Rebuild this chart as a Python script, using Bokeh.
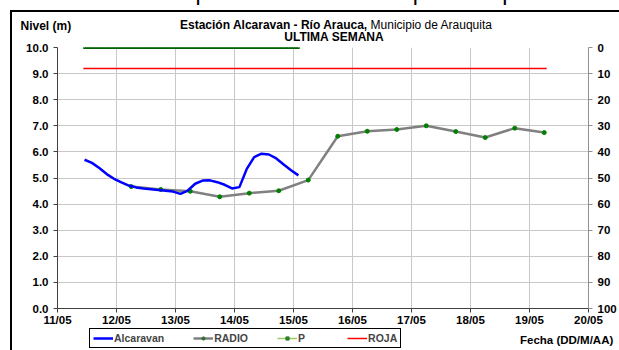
import pandas as pd
from bokeh.plotting import figure
from bokeh.layouts import column
from bokeh.models import (Range1d, LinearAxis, FixedTicker, PrintfTickFormatter,
                          Legend, LegendItem, Div)
from bokeh.embed import file_html
from bokeh.resources import INLINE

# ---------------- data ----------------
day_ticks = ["2010-05-11", "2010-05-12", "2010-05-13", "2010-05-14", "2010-05-15",
             "2010-05-16", "2010-05-17", "2010-05-18", "2010-05-19", "2010-05-20"]
day_labels = ["11/05", "12/05", "13/05", "14/05", "15/05",
              "16/05", "17/05", "18/05", "19/05", "20/05"]
nivel_ticks = [0, 1, 2, 3, 4, 5, 6, 7, 8, 9, 10]
precip_ticks = [0, 10, 20, 30, 40, 50, 60, 70, 80, 90, 100]

# Alcaravan (sensor, every 3 h)
alc_start = "2010-05-11 11:00"
alc_values = [5.70, 5.58, 5.38, 5.15, 4.97, 4.83, 4.71, 4.64, 4.60, 4.57,
              4.54, 4.51, 4.48, 4.39, 4.52, 4.78, 4.90, 4.91, 4.84, 4.74,
              4.60, 4.65, 5.35, 5.80, 5.93, 5.90, 5.75, 5.52, 5.30, 5.10]

# RADIO readings (06:00 and 18:00)
radio_times = ["2010-05-12 06:00", "2010-05-12 18:00", "2010-05-13 06:00", "2010-05-13 18:00",
               "2010-05-14 06:00", "2010-05-14 18:00", "2010-05-15 06:00", "2010-05-15 18:00",
               "2010-05-16 06:00", "2010-05-16 18:00", "2010-05-17 06:00", "2010-05-17 18:00",
               "2010-05-18 06:00", "2010-05-18 18:00", "2010-05-19 06:00"]
radio_values = [4.67, 4.56, 4.49, 4.28, 4.42, 4.51, 4.92, 6.60,
                6.79, 6.86, 7.00, 6.78, 6.55, 6.91, 6.74]

# P precipitation (hourly, mm)
p_start = "2010-05-11 11:00"
p_values = [0, 0, 0, 0, 0, 0, 0, 0, 0, 0, 0,
            0, 0, 0, 0, 0, 0, 0, 0, 0, 0, 0,
            0, 0, 0, 0, 0, 0, 0, 0, 0, 0, 0,
            0, 0, 0, 0, 0, 0, 0, 0, 0, 0, 0,
            0, 0, 0, 0, 0, 0, 0, 0, 0, 0, 0,
            0, 0, 0, 0, 0, 0, 0, 0, 0, 0, 0,
            0, 0, 0, 0, 0, 0, 0, 0, 0, 0, 0,
            0, 0, 0, 0, 0, 0, 0, 0, 0, 0, 0]

# ROJA alert level
roja_times = ["2010-05-11 10:30", "2010-05-19 07:00"]
roja_values = [9.2, 9.2]

# ---------------- build ----------------
alc_times = pd.date_range(alc_start, periods=len(alc_values), freq="3h")
p_times = pd.date_range(p_start, periods=len(p_values), freq="1h")
r_times = pd.to_datetime(radio_times)
ro_times = pd.to_datetime(roja_times)
tick_dt = pd.to_datetime(day_ticks)
tick_ms = [int(t.value // 10**6) for t in tick_dt]

FONT = "Liberation Sans"
W = 607

ROJA = dict(color="#ff0000", line_width=1.5)
PL = dict(color="#1e8c1e", line_width=3)
PP = dict(marker="square", size=2, color="#006000")
RL = dict(color="#808080", line_width=2.5)
RP = dict(marker="circle", size=4, color="#008000")
AL = dict(color="#0000ff", line_width=2.5)

# ---------- main chart ----------
p = figure(width=W, height=316, output_backend="svg", toolbar_location=None,
           x_axis_type="datetime",
           x_range=Range1d(tick_dt[0], tick_dt[-1]),
           y_range=Range1d(0, 10),
           min_border_left=45, min_border_right=29, min_border_top=35, min_border_bottom=18,
           background_fill_color="white", border_fill_color="white")
p.outline_line_color = None
p.extra_y_ranges = {"p": Range1d(start=100, end=0)}

p.xaxis.ticker = FixedTicker(ticks=tick_ms)
p.xaxis.major_label_overrides = {ms: lab for ms, lab in zip(tick_ms, day_labels)}
p.yaxis.ticker = FixedTicker(ticks=nivel_ticks)
p.yaxis.formatter = PrintfTickFormatter(format="%.1f")

right = LinearAxis(y_range_name="p", ticker=FixedTicker(ticks=precip_ticks))
p.add_layout(right, "right")

for ax in [p.xaxis[0], p.yaxis[0], right]:
    ax.major_label_text_font = FONT
    ax.major_label_text_font_style = "bold"
    ax.major_label_text_font_size = "11.5px"
    ax.major_label_text_color = "black"
    ax.minor_tick_line_color = None
    ax.major_tick_in = 0
    ax.major_tick_out = 4
p.xaxis.major_label_standoff = 1
p.yaxis[0].major_label_standoff = 5
right.major_label_standoff = 5
p.xaxis.axis_line_color = "#404040"
p.xaxis.major_tick_line_color = "#404040"
p.yaxis[0].axis_line_color = "#404040"
p.yaxis[0].major_tick_line_color = "#404040"
right.axis_line_color = "#909090"
right.major_tick_line_color = "#909090"

p.xgrid.ticker = FixedTicker(ticks=tick_ms)
p.ygrid.ticker = FixedTicker(ticks=nivel_ticks)
p.xgrid.grid_line_color = "#c8c8c8"
p.ygrid.grid_line_color = "#c8c8c8"

p.line(ro_times, roja_values, **ROJA)
p.line(p_times, p_values, y_range_name="p", **PL)
p.scatter(p_times, p_values, y_range_name="p", **PP)
p.line(r_times, radio_values, **RL)
p.scatter(r_times, radio_values, **RP)
p.line(alc_times, alc_values, **AL)

# ---------- legend strip (same series, ranges outside the data -> only the legend shows) ----------
leg = figure(width=W, height=22, output_backend="svg", toolbar_location=None,
             x_axis_location=None, y_axis_location=None,
             x_range=Range1d(0, 1), y_range=Range1d(0, 1),
             min_border_left=45, min_border_right=29, min_border_top=0, min_border_bottom=0,
             background_fill_color="white", border_fill_color="white")
leg.outline_line_color = None
leg.grid.visible = False
g_alc = leg.line(alc_times, alc_values, **AL)
g_rl = leg.line(r_times, radio_values, **RL)
g_rp = leg.scatter(r_times, radio_values, marker="circle", size=4, color="#2f6f2f")
g_pl = leg.line(p_times, p_values, color="#99cc66", line_width=1.5)
g_pp = leg.scatter(p_times, p_values, marker="square", size=3, color="#2f7f2f")
g_ro = leg.line(ro_times, roja_values, **ROJA)

legend = Legend(items=[
    LegendItem(label="Alcaravan", renderers=[g_alc]),
    LegendItem(label="RADIO", renderers=[g_rl, g_rp]),
    LegendItem(label="P", renderers=[g_pl, g_pp]),
    LegendItem(label="ROJA", renderers=[g_ro]),
], orientation="horizontal", location=(32, 2))
legend.label_text_font = FONT
legend.label_text_font_style = "bold"
legend.label_text_font_size = "10.5px"
legend.glyph_width = 20
legend.glyph_height = 8
legend.label_standoff = 1
legend.spacing = 29
legend.padding = 3
legend.margin = 0
legend.border_line_color = "black"
legend.border_line_alpha = 1.0
legend.border_line_width = 1.2
legend.background_fill_color = "white"
legend.background_fill_alpha = 1.0
leg.add_layout(legend, "center")


# ---------- texts (absolute HTML text over the layout) ----------
def text_div(html, left, top, width, size, bold=True, align="left"):
    return Div(text=html, width=width, height=int(float(size[:-2]) + 4),
               styles={"position": "absolute", "left": f"{left}px", "top": f"{top}px",
                       "font-family": FONT, "font-size": size,
                       "font-weight": "bold" if bold else "normal",
                       "line-height": size, "white-space": "nowrap",
                       "text-align": align, "color": "black", "margin": "0",
                       "padding": "0"})


texts = [
    text_div("el intervalo de los promedios históricos para la época.", -2, -31, 620,
             "23px", bold=False),
    text_div("Nivel (m)", 8.5, 7.8, 80, "12px"),
    text_div("<b>Estación Alcaravan - Río Arauca,</b> "
             "<span style='font-weight:normal'>Municipio de Arauquita</span>",
             124, 6.6, 400, "12px", bold=False, align="center"),
    text_div("ULTIMA SEMANA", 122, 19.4, 400, "12px", align="center"),
    text_div("Fecha (DD/M/AA)", 508, 323.3, 110, "11.5px"),
]

layout = column([p, leg] + texts, spacing=0)
layout.styles = {"margin-left": "10px", "margin-top": "10px",
                 "border-left": "2px solid black", "border-top": "2px solid black"}

open("out.html", "w").write(file_html(layout, INLINE))
